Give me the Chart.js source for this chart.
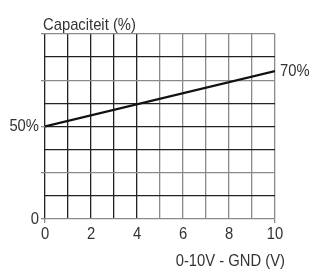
<!DOCTYPE html>
<html>
<head>
<meta charset="utf-8">
<script src="https://cdn.jsdelivr.net/npm/chart.js@4/dist/chart.umd.min.js"></script>
<style>
  body { margin: 0; background: #fff; }
</style>
</head>
<body>
<canvas id="capChart" width="310" height="269"></canvas>
<script>
// data
const voltage = [0, 10];
const capacity = [50, 80];          // where the line is drawn on the grid
const endLabels = ["50%", "70%"];   // text printed at the ends
const xTickLabels = [0, 2, 4, 6, 8, 10];
const yLabelValues = [0, 50];
const yLabelTexts = ["0", "50%"];
const yTitle = "Capaciteit (%)";
const xTitle = "0-10V - GND (V)";

const FONT = "'Liberation Sans', Arial, sans-serif";
const TEXT = "#333";
const DARK = "#222";
const GREY = "#8a8a8a";
const SQUEEZE = 0.87; // the reference font is a condensed one

// draw text squeezed horizontally, align is 'left' | 'center' | 'right'
function narrowText(c, str, x, y, align) {
  const w = c.measureText(str).width * SQUEEZE;
  let left = x;
  if (align === "center") left = x - w / 2;
  if (align === "right") left = x - w;
  c.save();
  c.translate(left, y);
  c.scale(SQUEEZE, 1);
  c.textAlign = "left";
  c.fillText(str, 0, 0);
  c.restore();
}

const labelsPlugin = {
  id: "labels",
  afterDraw(chart) {
    const c = chart.ctx;
    const area = chart.chartArea;
    const xs = chart.scales.x, ys = chart.scales.y;
    c.save();
    c.fillStyle = TEXT;
    c.font = "17px " + FONT;
    c.textBaseline = "alphabetic";
    narrowText(c, yTitle, area.left - 2, 29.5, "left");
    narrowText(c, xTitle, area.right + 10, 266, "right");

    c.textBaseline = "middle";
    xTickLabels.forEach(function (v) {
      narrowText(c, String(v), xs.getPixelForValue(v), 234, "center");
    });
    yLabelValues.forEach(function (v, i) {
      narrowText(c, yLabelTexts[i], area.left - 6, ys.getPixelForValue(v), "right");
    });
    // value label at the end of the line
    const last = voltage.length - 1;
    narrowText(c, endLabels[last], xs.getPixelForValue(voltage[last]) + 5, ys.getPixelForValue(capacity[last]), "left");
    c.restore();
  }
};

const ctx = document.getElementById("capChart").getContext("2d");
const chart = new Chart(ctx, {
  type: "scatter",
  data: {
    datasets: [
      {
        data: voltage.map((v, i) => ({ x: v, y: capacity[i] })),
        showLine: true,
        borderColor: "#111",
        borderWidth: 2.2,
        pointRadius: 0,
      },
    ],
  },
  options: {
    responsive: false,
    animation: false,
    layout: { padding: { left: 0, right: 35, top: 34, bottom: 0 } },
    plugins: {
      legend: { display: false },
      tooltip: { enabled: false },
    },
    scales: {
      x: {
        type: "linear",
        min: 0,
        max: 10,
        border: { display: false },
        afterFit: function (scale) { scale.height = 50; },
        ticks: {
          stepSize: 1,
          autoSkip: false,
          maxRotation: 0,
          color: "rgba(0,0,0,0)",
          font: { family: FONT, size: 17 },
        },
        grid: {
          lineWidth: 1.3,
          tickLength: 4,
          color: function (c) { return c.tick && c.tick.value >= 5 ? GREY : DARK; },
          tickColor: function (c) {
            return c.tick && (c.tick.value === 0 || c.tick.value === 10) ? GREY : "rgba(0,0,0,0)";
          },
        },
      },
      y: {
        min: 0,
        max: 100,
        border: { display: false },
        afterFit: function (scale) { scale.width = 45; },
        ticks: {
          stepSize: 12.5,
          autoSkip: false,
          color: "rgba(0,0,0,0)",
          font: { family: FONT, size: 17 },
        },
        grid: {
          lineWidth: 1.3,
          tickLength: 4,
          color: function (c) {
            if (!c.tick) return DARK;
            return c.tick.value % 25 === 0 && c.tick.value !== 50 ? GREY : DARK;
          },
          tickColor: function (c) {
            return c.tick && c.tick.value % 25 === 0 ? GREY : "rgba(0,0,0,0)";
          },
        },
      },
    },
  },
  plugins: [labelsPlugin],
});
</script>
</body>
</html>
